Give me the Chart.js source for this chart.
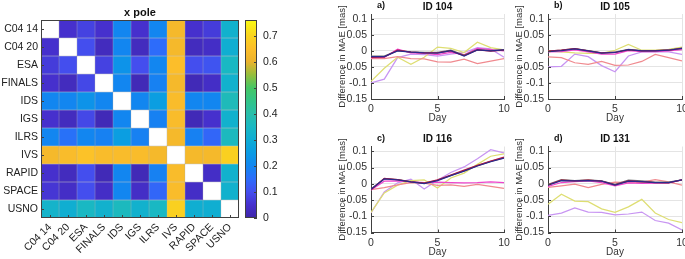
<!DOCTYPE html>
<html>
<head>
<meta charset="utf-8">
<script src="https://cdn.jsdelivr.net/npm/chart.js@4.4.1/dist/chart.umd.min.js"></script>
<style>
  html, body { margin: 0; padding: 0; background: #fff; }
  #wrap { position: relative; width: 685px; height: 259px; overflow: hidden; }
  canvas { position: absolute; }
</style>
</head>
<body>
<div id="wrap">
  <canvas id="heat" width="240" height="259" style="left:0;top:0"></canvas>
  <canvas id="cbar" width="60" height="259" style="left:240px;top:0"></canvas>
  <canvas id="pa" width="210" height="127" style="left:300px;top:0"></canvas>
  <canvas id="pb" width="175" height="127" style="left:510px;top:0"></canvas>
  <canvas id="pc" width="210" height="129" style="left:300px;top:130px"></canvas>
  <canvas id="pd" width="175" height="129" style="left:510px;top:130px"></canvas>
</div>
<script>
// ---- heatmap data (x pole) ----
const sources = ['C04 14', 'C04 20', 'ESA', 'FINALS', 'IDS', 'IGS', 'ILRS', 'IVS', 'RAPID', 'SPACE', 'USNO'];
const xPole = [
  [null, 0.05, 0.08, 0.05, 0.20, 0.05, 0.20, 0.63, 0.05, 0.07, 0.32],
  [0.05, null, 0.10, 0.03, 0.20, 0.03, 0.15, 0.63, 0.03, 0.04, 0.31],
  [0.07, 0.10, null, 0.08, 0.23, 0.10, 0.20, 0.65, 0.10, 0.11, 0.35],
  [0.05, 0.03, 0.09, null, 0.20, 0.02, 0.19, 0.63, 0.02, 0.04, 0.32],
  [0.20, 0.20, 0.23, 0.20, null, 0.20, 0.26, 0.64, 0.20, 0.20, 0.37],
  [0.05, 0.03, 0.09, 0.02, 0.20, null, 0.19, 0.64, 0.02, 0.05, 0.32],
  [0.20, 0.16, 0.20, 0.19, 0.26, 0.19, null, 0.63, 0.19, 0.14, 0.36],
  [0.63, 0.64, 0.66, 0.64, 0.64, 0.64, 0.63, null, 0.63, 0.63, 0.69],
  [0.05, 0.03, 0.10, 0.02, 0.20, 0.02, 0.19, 0.64, null, 0.04, 0.32],
  [0.06, 0.04, 0.10, 0.04, 0.20, 0.04, 0.14, 0.64, 0.04, null, 0.32],
  [0.33, 0.31, 0.35, 0.32, 0.36, 0.32, 0.35, 0.69, 0.31, 0.31, null]
];
const cbMin = 0;
const cbMax = 0.76;
const cbTicks = [0, 0.1, 0.2, 0.3, 0.4, 0.5, 0.6, 0.7];

// ---- line panels (difference in MAE per day) ----
const days = [0, 1, 2, 3, 4, 5, 6, 7, 8, 9, 10];
const xTicks = [0, 5, 10];
const yTicks = [-0.15, -0.1, -0.05, 0, 0.05, 0.1];
const seriesNames = ['s1', 's2', 's3', 's4', 's5', 's6', 's7'];

// order: navy, red, gray, magenta, salmon, yellow, lavender
const id104 = [
  [-0.018, -0.018, 0.000, -0.004, -0.006, -0.007, 0.001, -0.016, 0.003, 0.000, 0.003],
  [-0.020, -0.019, 0.002, -0.004, -0.006, -0.006, 0.000, -0.015, 0.003, -0.001, 0.002],
  [-0.016, -0.016, 0.001, -0.003, -0.005, -0.005, 0.002, -0.013, 0.004, 0.001, 0.004],
  [-0.021, -0.020, 0.005, -0.006, -0.008, -0.012, -0.005, -0.012, 0.008, 0.004, 0.000],
  [-0.024, -0.024, -0.018, -0.024, -0.025, -0.034, -0.035, -0.026, -0.040, -0.032, -0.024],
  [-0.095, -0.054, -0.020, -0.042, -0.020, 0.012, 0.008, -0.005, 0.027, 0.010, 0.003],
  [-0.100, -0.088, -0.021, -0.010, -0.012, -0.016, -0.010, -0.005, 0.010, 0.006, -0.020]
];
const id105 = [
  [-0.002, 0.001, 0.006, 0.000, -0.007, -0.005, 0.004, 0.000, 0.000, 0.002, 0.008],
  [-0.001, 0.002, 0.007, 0.000, -0.006, -0.005, 0.003, 0.000, 0.001, 0.002, 0.008],
  [-0.001, 0.002, 0.007, 0.001, -0.006, -0.004, 0.005, 0.001, 0.001, 0.003, 0.009],
  [-0.003, -0.002, 0.003, -0.003, -0.010, -0.010, 0.001, -0.002, -0.002, 0.000, 0.004],
  [-0.019, -0.021, -0.037, -0.042, -0.033, -0.045, -0.044, -0.033, -0.011, -0.021, -0.031],
  [0.000, -0.003, -0.006, -0.008, -0.008, 0.002, 0.020, 0.002, 0.002, 0.005, 0.012],
  [-0.050, -0.048, -0.010, -0.018, -0.046, -0.065, -0.016, -0.003, -0.002, -0.003, -0.011]
];
const id116 = [
  [-0.017, 0.015, 0.012, 0.006, 0.001, 0.010, 0.025, 0.039, 0.055, 0.068, 0.079],
  [-0.018, 0.017, 0.013, 0.006, 0.002, 0.012, 0.027, 0.042, 0.057, 0.070, 0.082],
  [-0.016, 0.016, 0.013, 0.007, 0.002, 0.011, 0.026, 0.040, 0.056, 0.069, 0.080],
  [-0.019, 0.008, 0.009, 0.006, 0.004, 0.005, 0.004, 0.003, 0.004, 0.006, 0.004],
  [-0.018, -0.012, -0.003, 0.004, 0.002, -0.005, -0.003, -0.008, -0.002, -0.008, -0.014],
  [-0.088, -0.028, -0.004, 0.010, 0.012, -0.013, 0.018, 0.033, 0.060, 0.085, 0.092],
  [-0.090, -0.025, 0.003, 0.014, -0.016, 0.011, 0.035, 0.052, 0.077, 0.105, 0.095]
];
const id131 = [
  [-0.004, 0.010, 0.009, 0.010, 0.008, -0.004, 0.008, 0.007, 0.004, 0.004, 0.012],
  [-0.003, 0.011, 0.009, 0.011, 0.008, -0.003, 0.009, 0.006, 0.004, 0.003, 0.012],
  [-0.002, 0.013, 0.010, 0.012, 0.009, -0.002, 0.011, 0.009, 0.005, 0.005, 0.012],
  [-0.008, 0.004, 0.007, 0.009, 0.004, -0.006, 0.003, 0.001, 0.002, 0.003, 0.012],
  [-0.011, -0.006, -0.001, -0.012, -0.002, 0.005, 0.004, 0.005, 0.013, 0.006, -0.004],
  [-0.063, -0.032, -0.053, -0.055, -0.077, -0.088, -0.071, -0.048, -0.090, -0.110, -0.120],
  [-0.097, -0.090, -0.074, -0.087, -0.088, -0.096, -0.093, -0.087, -0.113, -0.121, -0.142]
];

// colours
const seriesColors = ['#2a2a8c', '#b8163e', '#707070', '#ee44cc', '#f08a8f', '#dede72', '#c895f2'];
const cmapStops = [
  [0.00, [62, 38, 168]],
  [0.05, [70, 48, 205]],
  [0.10, [68, 78, 238]],
  [0.15, [45, 108, 250]],
  [0.20, [18, 134, 240]],
  [0.25, [10, 155, 228]],
  [0.30, [14, 172, 212]],
  [0.35, [25, 184, 195]],
  [0.40, [40, 190, 170]],
  [0.45, [50, 196, 135]],
  [0.50, [70, 198, 100]],
  [0.55, [150, 190, 60]],
  [0.60, [235, 178, 45]],
  [0.65, [252, 190, 42]],
  [0.70, [250, 212, 30]],
  [0.76, [249, 250, 20]]
];

function parula(v) {
  for (let i = 1; i < cmapStops.length; i++) {
    const [v1, c1] = cmapStops[i];
    if (v <= v1 || i === cmapStops.length - 1) {
      const [v0, c0] = cmapStops[i - 1];
      const t = Math.min(1, Math.max(0, (v - v0) / (v1 - v0)));
      return 'rgb(' + c0.map((c, k) => Math.round(c + (c1[k] - c) * t)).join(',') + ')';
    }
  }
}

Chart.defaults.font.family = '"Liberation Sans", Arial, sans-serif';
Chart.defaults.color = '#333';
Chart.defaults.animation = false;

const fmt = v => String(+v.toFixed(2));

// frame, inward tick marks (matlab style) and titles drawn after the chart
const decor = {
  id: 'decor',
  afterDraw(chart, args, opts) {
    const { ctx, chartArea: a } = chart;
    ctx.save();
    if (opts.frame) {
      ctx.strokeStyle = '#404040';
      ctx.lineWidth = 1;
      ctx.strokeRect(a.left + 0.5, a.top + 0.5, a.right - a.left - 1, a.bottom - a.top - 1);
    }
    if (opts.inTicks) {
      ctx.strokeStyle = '#404040';
      ctx.lineWidth = 1;
      ctx.beginPath();
      Object.values(chart.scales).forEach(s => {
        if (!s.options.display) return;
        s.ticks.forEach(t => {
          const p = Math.round(s.getPixelForValue(t.value)) + 0.5;
          if (s.position === 'bottom') { ctx.moveTo(p, a.bottom); ctx.lineTo(p, a.bottom - 3); }
          if (s.position === 'left') { ctx.moveTo(a.left, p); ctx.lineTo(a.left + 3, p); }
          if (s.position === 'right') { ctx.moveTo(a.right, p); ctx.lineTo(a.right - 3, p); }
        });
      });
      ctx.stroke();
    }
    ctx.fillStyle = '#111';
    ctx.textBaseline = 'middle';
    if (opts.title) {
      ctx.font = 'bold ' + opts.titleSize + 'px "Liberation Sans", Arial, sans-serif';
      ctx.textAlign = 'center';
      ctx.fillText(opts.title, (a.left + a.right) / 2, a.top - opts.titleGap);
    }
    if (opts.letter) {
      ctx.font = 'bold 9px "Liberation Sans", Arial, sans-serif';
      ctx.textAlign = 'left';
      ctx.fillText(opts.letter, a.left + 6, a.top - opts.titleGap - 1);
    }
    ctx.restore();
  }
};

// ---- heatmap as stacked bars, one dataset per row (bottom row first) ----
const heatSets = sources.map((_, r) => {
  const row = xPole[sources.length - 1 - r];
  return {
    label: sources[sources.length - 1 - r],
    data: sources.map(() => 1),
    backgroundColor: row.map(v => v == null ? '#ffffff' : parula(v)),
    borderColor: 'rgba(40,40,40,0.3)',
    borderWidth: 0.5,
    borderSkipped: false,
    barPercentage: 1,
    categoryPercentage: 1
  };
});

new Chart(document.getElementById('heat'), {
  type: 'bar',
  data: { labels: sources, datasets: heatSets },
  options: {
    responsive: false,
    devicePixelRatio: 1,
    layout: { padding: { left: 0, right: 1, top: 20, bottom: 0 } },
    plugins: {
      legend: { display: false },
      tooltip: { enabled: false },
      decor: { frame: true, inTicks: true, title: 'x pole', titleSize: 11, titleGap: 7 }
    },
    scales: {
      x: {
        stacked: true,
        grid: { display: false, drawTicks: false },
        border: { display: false },
        ticks: { autoSkip: false, minRotation: 45, maxRotation: 45, padding: 3, font: { size: 10.5 }, color: '#222' },
        afterFit: s => { s.height = 41; s.paddingLeft = 0; s.paddingRight = 0; }
      },
      y: {
        stacked: true,
        min: 0,
        max: sources.length,
        grid: { display: false, drawTicks: false },
        border: { display: false },
        afterBuildTicks: s => { s.ticks = sources.map((_, i) => ({ value: i + 0.5 })); },
        ticks: {
          padding: 3,
          font: { size: 10.5 },
          color: '#222',
          callback: v => sources[sources.length - 1 - Math.floor(v)]
        },
        afterFit: s => { s.width = 41; s.paddingTop = 0; s.paddingBottom = 0; }
      }
    }
  },
  plugins: [decor]
});

// ---- colour bar ----
new Chart(document.getElementById('cbar'), {
  type: 'bar',
  data: {
    labels: [''],
    datasets: [{
      data: [[cbMin, cbMax]],
      backgroundColor: c => {
        const a = c.chart.chartArea;
        if (!a) return '#fff';
        const g = c.chart.ctx.createLinearGradient(0, a.bottom, 0, a.top);
        cmapStops.forEach(([v, col]) => g.addColorStop((v - cbMin) / (cbMax - cbMin), 'rgb(' + col.join(',') + ')'));
        return g;
      },
      borderWidth: 0,
      barPercentage: 1,
      categoryPercentage: 1
    }]
  },
  options: {
    responsive: false,
    devicePixelRatio: 1,
    layout: { padding: { left: 5, right: 0, top: 20, bottom: 41 } },
    plugins: { legend: { display: false }, tooltip: { enabled: false }, decor: { frame: true, inTicks: true } },
    scales: {
      x: { display: false },
      y: {
        position: 'right',
        min: cbMin,
        max: cbMax,
        grid: { display: false, drawTicks: false },
        border: { display: false },
        afterBuildTicks: s => { s.ticks = cbTicks.map(v => ({ value: v })); },
        ticks: { padding: 6, font: { size: 10.5 }, color: '#222', callback: fmt },
        afterFit: s => { s.width = 43; s.paddingTop = 0; s.paddingBottom = 0; }
      }
    }
  },
  plugins: [decor]
});

// ---- line panels ----
function linePanel(id, letter, title, series, pad) {
  new Chart(document.getElementById(id), {
    type: 'line',
    data: {
      datasets: series.map((d, i) => ({
        label: seriesNames[i],
        data: d.map((y, k) => ({ x: days[k], y })),
        borderColor: seriesColors[i],
        borderWidth: 1.25,
        pointRadius: 0,
        tension: 0,
        fill: false
      }))
    },
    options: {
      responsive: false,
      devicePixelRatio: 1,
      layout: { padding: pad },
      plugins: {
        legend: { display: false },
        tooltip: { enabled: false },
        decor: { title, letter, inTicks: true, titleSize: 10, titleGap: 7 }
      },
      scales: {
        x: {
          type: 'linear',
          min: 0,
          max: 10,
          grid: { color: '#e4e4e4', drawTicks: false },
          border: { color: '#404040' },
          afterBuildTicks: s => { s.ticks = xTicks.map(v => ({ value: v })); },
          ticks: { padding: 4, font: { size: 10.5 }, color: '#333', callback: fmt },
          title: { display: true, text: 'Day', font: { size: 10 }, color: '#333', padding: { top: 0, bottom: 0.5 } },
          afterFit: s => { s.height = 26; s.paddingLeft = 0; s.paddingRight = 0; }
        },
        y: {
          min: -0.15,
          max: 0.115,
          grid: { color: '#e4e4e4', drawTicks: false },
          border: { color: '#404040' },
          afterBuildTicks: s => { s.ticks = yTicks.map(v => ({ value: v })); },
          ticks: { padding: 4, font: { size: 10.5 }, color: '#333', callback: fmt },
          title: { display: true, text: 'Difference in MAE [mas]', font: { size: 9.5 }, color: '#333', padding: 0 },
          afterFit: s => { s.width = 34; s.paddingTop = 0; s.paddingBottom = 0; }
        }
      }
    },
    plugins: [decor]
  });
}

linePanel('pa', 'a)', 'ID 104', id104, { left: 37, right: 6, top: 14, bottom: 2 });
linePanel('pb', 'b)', 'ID 105', id105, { left: 4, right: 3, top: 14, bottom: 2 });
linePanel('pc', 'c)', 'ID 116', id116, { left: 37, right: 6, top: 16.5, bottom: 0.5 });
linePanel('pd', 'd)', 'ID 131', id131, { left: 4, right: 3, top: 16.5, bottom: 0.5 });
</script>
</body>
</html>
